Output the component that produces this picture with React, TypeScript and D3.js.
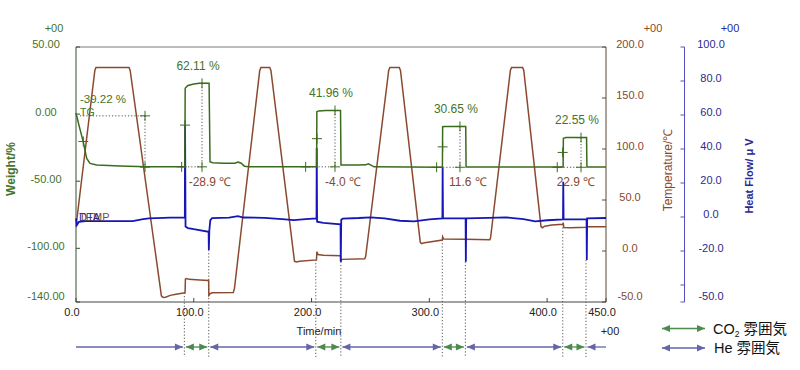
import React from 'react';
import * as d3 from 'd3';

const WIDTH = 800;
const HEIGHT = 370;
const plot = { left: 76, right: 606, top: 47, bottom: 302 };

// ---- axes ----
const timeTicks = [0, 100, 200, 300, 400, 450];
const weightTicks = [50, 0, -50, -100, -140];
const tempTicks = [200, 150, 100, 50, 0, -50];
const heatTicks = [100, 80, 60, 40, 20, 0, -20, -50];
const heatExtraTicks = [-40];

// ---- Temperature (°C) ----
const tempTime = [0, 16.0, 17.0, 45.0, 46.0, 72.5, 74, 76, 80, 85, 92.4, 92.6, 92.9, 94, 96, 105, 112.6, 112.8, 113.8, 115.5, 133.5, 134.5, 156.0, 157.0, 164.5, 165.5, 185.5, 187, 190, 204.2, 204.5, 205.5, 210, 224.6, 224.8, 225.6, 245.2, 246, 265.5, 266.5, 274.5, 275.5, 292.3, 293.5, 296, 311.0, 311.3, 312.2, 330, 351.3, 352, 368.8, 369.8, 379.2, 380.2, 394.8, 396, 398, 404, 413.4, 413.7, 414.2, 420, 433.5, 434, 450];
const tempValue = [24, 177, 180, 180, 177, -44, -45.5, -45.3, -43.5, -42.3, -41, -41, -27.5, -27, -27.8, -28.5, -29, -43.5, -42, -41, -40.8, -37, 177, 180, 180, 177, -10, -10.8, -10, -8.7, -0.7, -3.5, -4.2, -4.6, -10.5, -8.2, -7.5, -5, 177, 180, 180, 177, 8.5, 7.3, 8.2, 10.8, 14, 11.8, 11.5, 11, 13, 177, 180, 180, 177, 24, 22.8, 24.3, 25.5, 26.2, 27.8, 23, 22.8, 23.2, 23.8, 23.8];

// ---- TG (weight %) ----
const tgTime = [0, 2.5, 6.2, 9.1, 11.9, 17.6, 37.4, 59.4, 92.4, 92.7, 95, 100, 105, 113.0, 113.8, 116, 125, 135, 137.5, 140, 143, 147, 204.3, 204.5, 206, 212, 224.6, 225.0, 240, 246, 248.2, 250.5, 253, 311.1, 311.3, 313, 330.9, 331.2, 413.6, 413.8, 416, 433.5, 433.8, 450];
const tgValue = [0.8, -8.2, -20.9, -33, -36.7, -37.9, -38.7, -39.3, -39.3, 19.3, 21.3, 22.5, 22.9, 22.9, -35.5, -36.2, -36.6, -36.6, -35.8, -36.4, -38.8, -39.3, -39.3, 1.8, 2.4, 2.7, 2.7, -38, -38, -37.8, -37, -38, -39.3, -39.6, -9.4, -9.2, -9.2, -39.5, -39.5, -18.0, -17.5, -17.5, -39.5, -39.5];

// ---- DTA (heat flow µV) ----
const dtaTime = [0, 0.8, 2.5, 8, 48, 57, 62, 80, 92.4, 92.6, 93.0, 95, 100, 112.6, 112.8, 113.2, 114, 115.5, 130, 137.5, 142, 160, 175, 185, 195, 204.2, 204.4, 204.7, 210, 224.6, 224.8, 225.2, 226.5, 240, 250, 262, 275, 287, 300, 311.1, 311.3, 311.6, 330.8, 331.0, 331.3, 350, 365, 380, 390, 400, 413.5, 413.7, 414, 433.5, 433.7, 434, 450];
const dtaValue = [-0.8, -4.7, -2.8, -2.4, -2.4, -1.3, -0.8, -0.4, -0.2, 54, -5.6, -6.5, -7.2, -8.7, -19.4, -8, -2, -0.6, -0.4, 0.5, -0.3, -0.5, -1.2, -1.8, -1.3, -0.8, 40.6, -2.8, -3.4, -4.3, -26.3, -1.6, -0.9, -0.6, -0.2, -0.8, -2.2, -2.6, -1.4, -0.8, 29, -0.8, -0.8, -26.3, -0.8, -0.5, -0.2, -1.2, -2.6, -1.9, -1.4, 20.8, -1.4, -1.2, -25.3, -0.8, -0.6];

// ---- atmosphere switching (min) ----
const co2Start = [92.0, 203.6, 311.0, 413.3];
const co2End = [112.7, 224.9, 330.6, 433.0];

// ---- TG step analysis ----
const stepGainLabels = ['62.11 %', '41.96 %', '30.65 %', '22.55 %'];
const stepTempLabels = ['-28.9 ℃', '-4.0 ℃', '11.6 ℃', '22.9 ℃'];
const stepBaseTime = [89.7, 195.0, 306.2, 408.6];
const stepJumpTime = [92.6, 204.6, 311.3, 413.2];
const stepPeakTime = [107.0, 219.9, 326.0, 428.8];
const stepLow = [-39.3, -39.3, -39.6, -39.6];
const stepHigh = [22.9, 2.7, -9.2, -17.5];

// initial weight loss
const initLossLabel = '-39.22 %';
const initMidTime = 6.2;
const initRefTime = 58.6;
const initHigh = -1.3;
const initLow = -39.5;

const legendItems = ['CO', 'He'];

const FONT = '"Liberation Sans", Arial, sans-serif';
const LEGEND_FONT = '"Liberation Sans", "Noto Sans CJK JP", sans-serif';
const GREEN = '#3b6b1f';
const GREEN_TXT = '#44732a';
const BROWN = '#8a4a30';
const BROWN_TXT = '#86492d';
const BLUE = '#1616b8';
const BLUE_TXT = '#2a2a92';
const HE_ARROW = '#6565a8';
const CO2_ARROW = '#4d8a4d';

const x = d3.scaleLinear().domain([0, 450]).range([plot.left, plot.right]);
const yW = d3.scaleLinear().domain([-140, 50]).range([plot.bottom, plot.top]);
const yT = d3.scaleLinear().domain([-50, 200]).range([plot.bottom, plot.top]);
const yH = d3.scaleLinear().domain([-50, 100]).range([plot.bottom, plot.top]);

function interp(ts: number[], vs: number[], t: number) {
  const i = d3.bisectLeft(ts, t);
  if (i <= 0) return vs[0];
  if (i >= ts.length) return vs[vs.length - 1];
  const f = (t - ts[i - 1]) / (ts[i] - ts[i - 1]);
  return vs[i - 1] + f * (vs[i] - vs[i - 1]);
}

function Cross({ cx, cy, color }: { cx: number; cy: number; color: string }) {
  return (
    <g stroke={color} strokeWidth={1}>
      <line x1={cx - 5} x2={cx + 5} y1={cy} y2={cy} />
      <line x1={cx} x2={cx} y1={cy - 5} y2={cy + 5} />
    </g>
  );
}

function arrowHead(tipX: number, y: number, dir: number) {
  const L = 8, h = 3.6;
  return `M${tipX},${y}L${tipX - dir * L},${y - h}L${tipX - dir * L},${y + h}Z`;
}

export default function App() {
  const lineTemp = d3.line<number>().x((_, i) => x(tempTime[i])).y((d) => yT(d));
  const lineTG = d3.line<number>().x((_, i) => x(tgTime[i])).y((d) => yW(d));
  const lineDTA = d3.line<number>().x((_, i) => x(dtaTime[i])).y((d) => yH(d));

  const arrowY = 347;
  const dotBottom = 357;
  const gap = 1.5;

  const heSegs: { a: number; b: number; headA: boolean; headB: boolean }[] = [];
  heSegs.push({ a: 0, b: co2Start[0], headA: false, headB: true });
  for (let i = 0; i < co2Start.length - 1; i++) heSegs.push({ a: co2End[i], b: co2Start[i + 1], headA: true, headB: true });
  heSegs.push({ a: co2End[co2End.length - 1], b: 450, headA: true, headB: false });

  const switchLines: { t: number; top: number }[] = [];
  co2Start.forEach((t) => {
    switchLines.push({ t, top: yT(interp(tempTime, tempValue, t)) });
  });
  co2End.forEach((t) => {
    const vals = dtaValue.filter((_, i) => Math.abs(dtaTime[i] - t) < 0.8);
    switchLines.push({ t, top: yH(d3.min(vals) ?? 0) });
  });

  const tickLen = 4;

  return (
    <svg width={WIDTH} height={HEIGHT} style={{ position: 'fixed', left: 0, top: 0, background: '#fff' }} fontFamily={FONT}>
      <rect x={0} y={0} width={WIDTH} height={HEIGHT} fill="#fff" />

      {/* frame */}
      <line x1={plot.left} x2={plot.right} y1={plot.top} y2={plot.top} stroke="#7a7a7a" strokeWidth={1} />
      <line x1={plot.left} x2={plot.right} y1={plot.bottom} y2={plot.bottom} stroke="#444" strokeWidth={1} />
      <line x1={plot.left} x2={plot.left} y1={plot.top} y2={plot.bottom} stroke="#34502a" strokeWidth={1} />
      <line x1={plot.right} x2={plot.right} y1={plot.top} y2={plot.bottom} stroke="#5a4636" strokeWidth={1} />

      {/* time axis */}
      {timeTicks.map((t) => (
        <g key={'tx' + t}>
          <line x1={x(t)} x2={x(t)} y1={plot.bottom} y2={plot.bottom - tickLen} stroke="#444" />
          <text x={x(t) - 4} y={313} fontSize={11} textAnchor="middle" dominantBaseline="middle" fill="#222">
            {t.toFixed(1)}
          </text>
        </g>
      ))}
      <text x={610} y={332} fontSize={11} textAnchor="middle" dominantBaseline="middle" fill="#222">+00</text>
      <text x={319} y={332.5} fontSize={11} textAnchor="middle" dominantBaseline="middle" fill="#222">Time/min</text>

      {/* weight axis */}
      {weightTicks.map((v) => (
        <g key={'w' + v}>
          <line x1={plot.left} x2={plot.left + tickLen} y1={yW(v)} y2={yW(v)} stroke="#34502a" />
          <text x={46} y={Math.min(yW(v) - 1.5, 297)} fontSize={11} textAnchor="middle" dominantBaseline="middle" fill={GREEN_TXT}>
            {v.toFixed(2)}
          </text>
        </g>
      ))}
      <text x={54} y={29} fontSize={11} textAnchor="middle" dominantBaseline="middle" fill={GREEN_TXT}>+00</text>
      <text transform="translate(12,169) rotate(-90)" fontSize={12} fontWeight="bold" textAnchor="middle" dominantBaseline="middle" fill={GREEN_TXT}>Weight/%</text>

      {/* temperature axis */}
      {tempTicks.map((v) => (
        <g key={'t' + v}>
          <line x1={plot.right} x2={plot.right - tickLen} y1={yT(v)} y2={yT(v)} stroke="#5a4636" />
          <text x={630} y={Math.min(yT(v) - 1.5, 297)} fontSize={11} textAnchor="middle" dominantBaseline="middle" fill={BROWN_TXT}>
            {v.toFixed(1)}
          </text>
        </g>
      ))}
      <text x={653} y={29} fontSize={11} textAnchor="middle" dominantBaseline="middle" fill={BROWN_TXT}>+00</text>
      <text transform="translate(669,170) rotate(-90)" fontSize={12} textAnchor="middle" dominantBaseline="middle" fill={BROWN_TXT}>Temperature/℃</text>

      {/* heat flow axis */}
      <line x1={684.5} x2={684.5} y1={plot.top} y2={plot.bottom} stroke="#5252c4" />
      {[...heatTicks, ...heatExtraTicks].map((v) => (
        <line key={'hk' + v} x1={684.5} x2={684.5 - tickLen} y1={yH(v)} y2={yH(v)} stroke="#5252c4" />
      ))}
      {heatTicks.map((v) => (
        <text key={'h' + v} x={711} y={Math.min(yH(v) - 1.5, 297)} fontSize={11} textAnchor="middle" dominantBaseline="middle" fill={BLUE_TXT}>
          {v.toFixed(1)}
        </text>
      ))}
      <text x={730} y={29} fontSize={11} textAnchor="middle" dominantBaseline="middle" fill={BLUE_TXT}>+00</text>
      <text transform="translate(750,176) rotate(-90)" fontSize={11} fontWeight="bold" textAnchor="middle" dominantBaseline="middle" fill={BLUE_TXT}>Heat Flow/ μ V</text>

      {/* dotted switch lines */}
      {switchLines.map((s, i) => (
        <line key={'sw' + i} x1={x(s.t)} x2={x(s.t)} y1={s.top} y2={dotBottom} stroke="#555" strokeWidth={1} strokeDasharray="1.2,2" />
      ))}

      {/* curves */}
      <path d={lineTemp(tempValue) ?? ''} fill="none" stroke={BROWN} strokeWidth={1.5} />
      <path d={lineDTA(dtaValue) ?? ''} fill="none" stroke={BLUE} strokeWidth={1.8} />
      <path d={lineTG(tgValue) ?? ''} fill="none" stroke={GREEN} strokeWidth={1.5} />

      {/* initial loss analysis */}
      <line x1={80} x2={x(initRefTime)} y1={yW(initHigh)} y2={yW(initHigh)} stroke="#555" strokeDasharray="1.2,2" />
      <line x1={x(initRefTime)} x2={x(initRefTime)} y1={yW(initHigh)} y2={yW(initLow)} stroke="#555" strokeDasharray="1.2,2" />
      <Cross cx={x(initRefTime)} cy={yW(initHigh)} color={GREEN} />
      <Cross cx={x(initRefTime)} cy={yW(initLow)} color={GREEN} />
      <Cross cx={x(initMidTime)} cy={yW((initHigh + initLow) / 2)} color={GREEN} />
      <text x={80} y={100} fontSize={11.5} dominantBaseline="middle" fill={GREEN_TXT}>{initLossLabel}</text>
      <text x={80} y={113.5} fontSize={10.5} dominantBaseline="middle" fill={GREEN_TXT}>TG</text>
      <text x={79} y={218} fontSize={11} dominantBaseline="middle" fill={BROWN_TXT}>TEMP</text>
      <text x={79} y={218} fontSize={11} dominantBaseline="middle" fill={BLUE_TXT}>DTA</text>

      {/* step analysis */}
      {stepGainLabels.map((lab, i) => {
        const xb = x(stepBaseTime[i]);
        const xp = x(stepPeakTime[i]);
        const xj = x(stepJumpTime[i]);
        const yl = yW(stepLow[i]);
        const yh = yW(stepHigh[i]);
        const tempX = Math.min(xp + 8, plot.right - 30);
        return (
          <g key={'st' + i}>
            <line x1={xb} x2={xp} y1={yl} y2={yl} stroke="#555" strokeDasharray="1.2,2" />
            <line x1={xp} x2={xp} y1={yh} y2={yl} stroke="#555" strokeDasharray="1.2,2" />
            <Cross cx={xb} cy={yl} color={GREEN} />
            <Cross cx={xp} cy={yl} color={GREEN} />
            <Cross cx={xp} cy={yh} color={GREEN} />
            <Cross cx={xj} cy={yW((stepLow[i] + stepHigh[i]) / 2)} color={GREEN} />
            <text x={xp - 4} y={yh - 17} fontSize={12} textAnchor="middle" dominantBaseline="middle" fill={GREEN_TXT}>{lab}</text>
            <text x={tempX} y={yl + 16} fontSize={12} textAnchor="middle" dominantBaseline="middle" fill={BROWN_TXT}>{stepTempLabels[i]}</text>
          </g>
        );
      })}

      {/* atmosphere arrows */}
      {heSegs.map((s, i) => {
        const xa = x(s.a) + (s.headA ? gap : 0);
        const xb2 = x(s.b) - (s.headB ? gap : 0);
        return (
          <g key={'he' + i}>
            <line x1={xa} x2={xb2} y1={arrowY} y2={arrowY} stroke={HE_ARROW} strokeWidth={1.3} />
            {s.headA && <path d={arrowHead(xa, arrowY, -1)} fill={HE_ARROW} />}
            {s.headB && <path d={arrowHead(xb2, arrowY, 1)} fill={HE_ARROW} />}
          </g>
        );
      })}
      {co2Start.map((t, i) => {
        const xa = x(t) + gap;
        const xb2 = x(co2End[i]) - gap;
        return (
          <g key={'co' + i}>
            <line x1={xa} x2={xb2} y1={arrowY} y2={arrowY} stroke={CO2_ARROW} strokeWidth={1.3} />
            <path d={arrowHead(xa, arrowY, -1)} fill={CO2_ARROW} />
            <path d={arrowHead(xb2, arrowY, 1)} fill={CO2_ARROW} />
          </g>
        );
      })}

      {/* legend */}
      {legendItems.map((k, i) => {
        const ly = 328.5 + i * 19.5;
        const col = i === 0 ? CO2_ARROW : HE_ARROW;
        return (
          <g key={'lg' + k}>
            <line x1={662} x2={705} y1={ly} y2={ly} stroke={col} strokeWidth={1.4} />
            <path d={arrowHead(662, ly, -1)} fill={col} />
            <path d={arrowHead(705, ly, 1)} fill={col} />
            {i === 0 ? (
              <text x={713} y={ly + 5} fontSize={14.5} fontFamily={LEGEND_FONT} fill="#111">
                CO<tspan fontSize={8.5} dy={3.5}>2</tspan><tspan dy={-3.5}> 雰囲気</tspan>
              </text>
            ) : (
              <text x={714} y={ly + 5} fontSize={14.5} fontFamily={LEGEND_FONT} fill="#111">He 雰囲気</text>
            )}
          </g>
        );
      })}
    </svg>
  );
}
